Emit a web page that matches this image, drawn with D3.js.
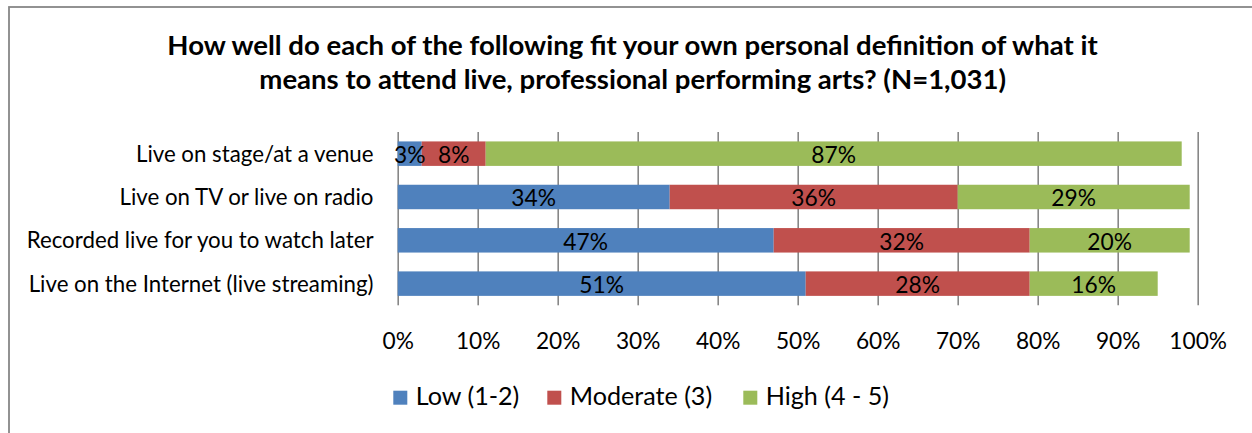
<!DOCTYPE html>
<html>
<head>
<meta charset="utf-8">
<script src="https://cdn.jsdelivr.net/npm/d3@7"></script>
<style>
  html, body { margin: 0; padding: 0; background: #fff; }
  svg { display: block; font-family: Lato, "Open Sans", sans-serif; }
</style>
</head>
<body>
<svg id="chart" width="1252" height="433"></svg>
<script>
// ---- Data ----
const titleLines = [
  "How well do each of the following fit your own personal definition of what it",
  "means to attend live, professional performing arts? (N=1,031)"
];
const categories = [
  "Live on stage/at a venue",
  "Live on TV or live on radio",
  "Recorded live for you to watch later",
  "Live on the Internet (live streaming)"
];
const seriesNames = ["Low (1-2)", "Moderate (3)", "High (4 - 5)"];
const seriesColors = ["#4F81BD", "#C0504D", "#9BBB59"];
const lowValues = [3, 34, 47, 51];
const moderateValues = [8, 36, 32, 28];
const highValues = [87, 29, 20, 16];
const tickValues = [0, 10, 20, 30, 40, 50, 60, 70, 80, 90, 100];

// ---- Layout ----
const svg = d3.select("#chart");
const plotLeft = 397.7, plotRight = 1197.7, plotTop = 132, plotBottom = 305.3;

// frame
svg.append("rect")
  .attr("x", 9).attr("y", 7).attr("width", 1400).attr("height", 600)
  .attr("fill", "none").attr("stroke", "#878787").attr("stroke-width", 1.8);

const x = d3.scaleLinear().domain([0, 100]).range([plotLeft, plotRight]);
const y = d3.scaleBand().domain(categories).range([plotTop, plotBottom])
  .paddingInner(0.435).paddingOuter(0.2175);

// helper: font size so that a sample string reaches a target width
function fitSize(str, target, weight) {
  const t = svg.append("text").attr("font-size", 20).attr("font-weight", weight || "normal").text(str);
  const w = t.node().getComputedTextLength();
  t.remove();
  return 20 * target / w;
}

// ---- Title ----
const titleSize = fitSize(titleLines[0], 931, "bold");
svg.append("text").attr("text-anchor", "middle").attr("x", 632.5).attr("y", 55)
  .attr("font-weight", "bold").attr("fill", "#000").attr("font-size", titleSize)
  .text(titleLines[0]);
svg.append("text").attr("text-anchor", "middle").attr("x", 632.7).attr("y", 89)
  .attr("font-weight", "bold").attr("fill", "#000").attr("font-size", titleSize)
  .text(titleLines[1]);

// ---- Gridlines / x axis ----
const axisSize = fitSize("100%", 57.7);
const axis = d3.axisBottom(x).tickValues(tickValues).tickFormat(d => d + "%")
  .tickSize(-(plotBottom - plotTop)).tickPadding(0);
const gAxis = svg.append("g").attr("transform", `translate(0,${plotBottom})`).call(axis);
gAxis.select(".domain").remove();
gAxis.selectAll(".tick line").attr("stroke", "#878787").attr("stroke-width", 1.6);
gAxis.selectAll(".tick text").attr("y", 43.7).attr("dy", null)
  .attr("font-size", axisSize).attr("fill", "#000").attr("font-family", "Lato, sans-serif");

// ---- Bars ----
const rows = categories.map((c, i) => ({
  cat: c, vals: [lowValues[i], moderateValues[i], highValues[i]]
}));
const segs = [];
rows.forEach(r => {
  let acc = 0;
  r.vals.forEach((v, k) => {
    segs.push({ cat: r.cat, k, x0: acc, x1: acc + v, v });
    acc += v;
  });
});
svg.append("g").selectAll("rect").data(segs).join("rect")
  .attr("x", d => x(d.x0)).attr("width", d => x(d.x1) - x(d.x0))
  .attr("y", d => y(d.cat)).attr("height", y.bandwidth())
  .attr("fill", d => seriesColors[d.k]);

const labelSize = fitSize("51%", 44.7);
svg.append("g").selectAll("text").data(segs).join("text")
  .attr("x", d => x((d.x0 + d.x1) / 2))
  .attr("y", d => y(d.cat) + y.bandwidth() / 2 + 9.5)
  .attr("text-anchor", "middle").attr("font-size", labelSize).attr("fill", "#000")
  .text(d => d.v + "%");

// ---- Category labels ----
const catSize = fitSize(categories[3], 345);
svg.append("g").selectAll("text").data(categories).join("text")
  .attr("text-anchor", "end").attr("x", 373.5)
  .attr("y", d => y(d) + y.bandwidth() / 2 + catSize * 0.36)
  .attr("font-size", catSize).attr("fill", "#000").text(d => d);

// ---- Legend ----
const legendX = [393.3, 547.3, 743.3];
const legendSize = fitSize(seriesNames[1], 142.4);
const lg = svg.append("g");
seriesNames.forEach((n, i) => {
  lg.append("rect").attr("x", legendX[i]).attr("y", 390.7).attr("width", 14).attr("height", 14)
    .attr("fill", seriesColors[i]);
  lg.append("text").attr("x", legendX[i] + 22.5).attr("y", 405)
    .attr("font-size", legendSize).attr("fill", "#000").text(n);
});
</script>
</body>
</html>
